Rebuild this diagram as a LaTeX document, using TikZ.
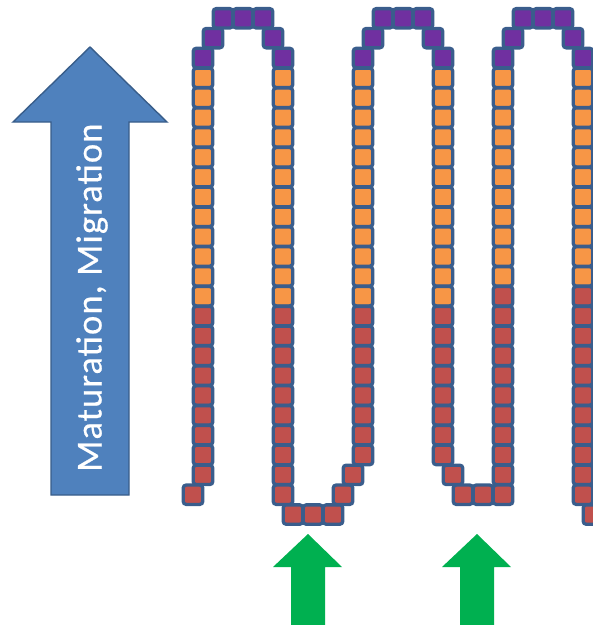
\documentclass[tikz,border=0pt]{standalone}
\usepackage{fontspec}
\newfontfamily\carl[LetterSpace=3,FakeBold=0.5]{Carlito}
\definecolor{cpurple}{HTML}{7030A0}
\definecolor{corange}{HTML}{F79646}
\definecolor{cred}{HTML}{C0504D}
\definecolor{cborder}{HTML}{3A5D8C}
\definecolor{cblue}{HTML}{4F81BD}
\definecolor{cblueline}{HTML}{385D8A}
\definecolor{cgreen}{HTML}{00B050}
\tikzset{
  sq/.style={draw=cborder, line width=3.3pt, rounded corners=3pt,
    minimum width=19.6pt, minimum height=19.4pt, inner sep=0pt, outer sep=0pt},
  bigarrow/.style={fill=cblue, draw=cblueline, line width=1.4pt, line join=miter},
  greenarrow/.style={fill=cgreen, draw=none},
  lbl/.style={text=white, font=\carl\fontsize{36.5}{40}\selectfont, inner sep=0pt}
}
\newcommand\sqcol[4]{%
  \foreach \k in {#2,...,#3}
    \node[sq, fill=#4] (s#1n\k) at ({203+10*#1},{58+19.85*\k}) {};}
\newcommand\sqone[3]{%
  \node[sq, fill=#3] (s#1n#2) at ({203+10*#1},{58+19.85*#2}) {};}
\begin{document}
\begin{tikzpicture}[x=1pt,y=-1pt]
\useasboundingbox (0,0) rectangle (593,625);
% big blue arrow
\draw[bigarrow] (51,495) -- (51,122) -- (13,122) -- (90,47) -- (167,122) -- (129,122) -- (129,495) -- cycle;
\node[lbl, rotate=90, anchor=base west] (txt) at (101.5,472) {Maturation, Migration};
% green arrows
\fill[greenarrow] (291,630) -- (291,567) -- (273,567) -- (308,534) -- (342,567) -- (325,567) -- (325,630) -- cycle;
\fill[greenarrow] (460,630) -- (460,567) -- (442,567) -- (477,534) -- (511,567) -- (494,567) -- (494,630) -- cycle;
% column 1
\sqcol{0}{0}{0}{cpurple}
\sqcol{0}{1}{12}{corange}
\sqcol{0}{13}{21}{cred}
\sqone{-1}{22}{cred}
% arch 1
\sqone{1}{-1}{cpurple}
\sqone{2}{-2}{cpurple}
\sqone{4}{-2}{cpurple}
\sqone{6}{-2}{cpurple}
\sqone{7}{-1}{cpurple}
% column 2
\sqcol{8}{0}{0}{cpurple}
\sqcol{8}{1}{12}{corange}
\sqcol{8}{13}{22}{cred}
% U1
\sqone{9}{23}{cred}
\sqone{11}{23}{cred}
\sqone{13}{23}{cred}
\sqone{14}{22}{cred}
\sqone{15}{21}{cred}
% column 3
\sqcol{16}{0}{0}{cpurple}
\sqcol{16}{1}{12}{corange}
\sqcol{16}{13}{20}{cred}
% arch 2
\sqone{17}{-1}{cpurple}
\sqone{18}{-2}{cpurple}
\sqone{20}{-2}{cpurple}
\sqone{22}{-2}{cpurple}
\sqone{23}{-1}{cpurple}
% column 4
\sqcol{24}{0}{0}{cpurple}
\sqcol{24}{1}{12}{corange}
\sqcol{24}{13}{20}{cred}
% U2
\sqone{25}{21}{cred}
\sqone{26}{22}{cred}
\sqone{28}{22}{cred}
% column 5
\sqcol{30}{0}{0}{cpurple}
\sqcol{30}{1}{11}{corange}
\sqcol{30}{12}{22}{cred}
% arch 3
\sqone{31}{-1}{cpurple}
\sqone{32}{-2}{cpurple}
\sqone{34}{-2}{cpurple}
\sqone{36}{-2}{cpurple}
\sqone{37}{-1}{cpurple}
% column 6
\sqcol{38}{0}{0}{cpurple}
\sqcol{38}{1}{11}{corange}
\sqcol{38}{12}{22}{cred}
\sqone{39}{23}{cred}
\end{tikzpicture}
\end{document}
